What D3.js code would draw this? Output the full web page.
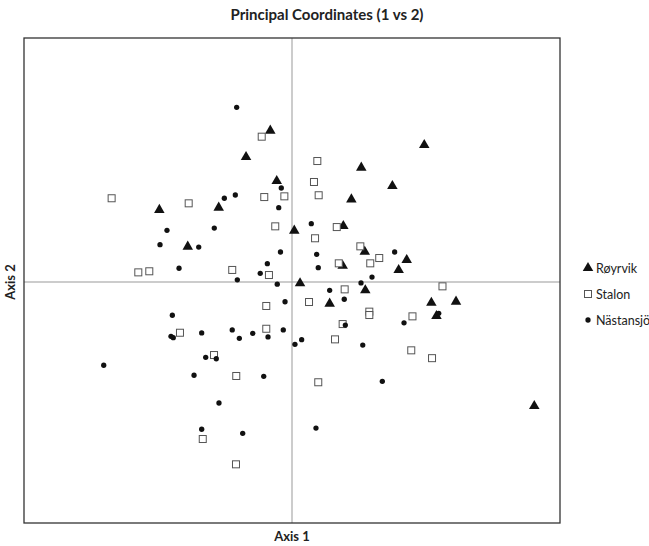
<!DOCTYPE html>
<html>
<head>
<meta charset="utf-8">
<script src="https://cdn.jsdelivr.net/npm/d3@7"></script>
<style>
  body { margin: 0; background: #fff; }
  text { font-family: Lato, "Open Sans", sans-serif; fill: #222; }
</style>
</head>
<body>
<script>
// PCoA scores, axis 1 / axis 2
var royrvikX = [-0.162, -0.343, -0.114, -0.990, -0.547, -0.778, 0.987, 0.517, 0.749, 0.443, 0.383, 0.017,
                0.543, 0.378, 0.856, 0.796, 0.060, 0.547, 0.281, 1.040, 1.224, 1.078, 1.808];
var royrvikY = [1.256, 1.037, 0.838, 0.598, 0.617, 0.293, 1.137, 0.949, 0.797, 0.686, 0.465, 0.426,
                0.251, 0.135, 0.183, 0.100, -0.011, -0.069, -0.180, -0.172, -0.163, -0.282, -1.029];

var stalonX = [-0.226, -1.346, -0.771, -0.207, -0.057, -0.125, -1.147, -1.065, -0.446, -0.172, 0.189, 0.164,
               0.199, 0.334, 0.172, 0.510, 0.651, 0.349, 0.584, 1.123, 0.393, 0.127, 0.577, 0.577, 0.899,
               0.378, 0.321, 0.890, 1.045, 0.196, -0.192, -0.836, -0.192, -0.582, -0.416, -0.666, -0.418];
var stalonY = [1.206, 0.695, 0.653, 0.705, 0.711, 0.462, 0.080, 0.089, 0.100, 0.058, 1.004, 0.830,
               0.720, 0.456, 0.363, 0.296, 0.199, 0.155, 0.155, -0.036, -0.061, -0.166, -0.246, -0.274, -0.285,
               -0.349, -0.476, -0.567, -0.632, -0.832, -0.199, -0.421, -0.388, -0.606, -0.780, -1.303, -1.513];

var nastansjoX = [-0.413, -0.080, -0.505, -0.423, -0.099, -0.933, -0.580, -0.985, -0.696, -0.086, -0.184, -0.843,
                  -0.237, -0.408, -0.110, 0.144, 0.766, 0.184, 0.196, 0.597, 0.515, 0.281, 0.390, -0.052,
                  1.095, 0.836, 0.398, -0.065, 0.072, 0.022, 0.528, 0.674, 0.179, -0.893, -0.903, -0.886,
                  -0.674, -0.446, -0.393, -0.293, -0.179, -1.405, -0.644, -0.565, -0.731, -0.211, -0.545,
                  -0.674, -0.368];
var nastansjoY = [1.450, 0.780, 0.695, 0.722, 0.617, 0.429, 0.448, 0.310, 0.290, 0.249, 0.152, 0.114,
                  0.072, 0.018, -0.018, 0.484, 0.249, 0.230, 0.119, 0.041, -0.008, -0.069, -0.143, -0.164,
                  -0.260, -0.339, -0.357, -0.398, -0.479, -0.517, -0.523, -0.824, -1.212, -0.276, -0.451, -0.462,
                  -0.423, -0.398, -0.467, -0.426, -0.456, -0.691, -0.625, -0.637, -0.774, -0.783, -1.004,
                  -1.222, -1.256];

var groups = ["Røyrvik", "Stalon", "Nästansjö"];

var width = 649, height = 546;
var margin = {left: 24, right: 89, top: 38, bottom: 23};

var svg = d3.select("body").append("svg")
    .attr("width", width)
    .attr("height", height);

var x = d3.scaleLinear().domain([-2, 2]).range([margin.left, width - margin.right]);
var y = d3.scaleLinear().domain([-2, 2.025]).range([height - margin.bottom, margin.top]);

// zero lines
svg.append("line")
    .attr("x1", x(0)).attr("x2", x(0))
    .attr("y1", y.range()[1]).attr("y2", y.range()[0])
    .style("stroke", "#999").style("stroke-width", 1);
svg.append("line")
    .attr("x1", x.range()[0]).attr("x2", x.range()[1])
    .attr("y1", y(0)).attr("y2", y(0))
    .style("stroke", "#999").style("stroke-width", 1);

// frame
svg.append("rect")
    .attr("x", x.range()[0]).attr("y", y.range()[1])
    .attr("width", x.range()[1] - x.range()[0])
    .attr("height", y.range()[0] - y.range()[1])
    .style("fill", "none").style("stroke", "#333").style("stroke-width", 1.3);

function pairs(xs, ys) {
    return xs.map(function(d, i) { return [d, ys[i]]; });
}

var tri = d3.symbol().type(d3.symbolTriangle).size(48);
var dot = d3.symbol().type(d3.symbolCircle).size(22);

svg.selectAll("path.tri")
    .data(pairs(royrvikX, royrvikY))
    .enter().append("path")
    .attr("class", "tri")
    .attr("d", tri)
    .attr("transform", function(d) { return "translate(" + x(d[0]) + "," + y(d[1]) + ")"; })
    .style("fill", "#111");

svg.selectAll("rect.sq")
    .data(pairs(stalonX, stalonY))
    .enter().append("rect")
    .attr("class", "sq")
    .attr("x", function(d) { return x(d[0]) - 3.5; })
    .attr("y", function(d) { return y(d[1]) - 3.5; })
    .attr("width", 7).attr("height", 7)
    .style("fill", "#fff").style("stroke", "#555").style("stroke-width", 1);

svg.selectAll("path.dot")
    .data(pairs(nastansjoX, nastansjoY))
    .enter().append("path")
    .attr("class", "dot")
    .attr("d", dot)
    .attr("transform", function(d) { return "translate(" + x(d[0]) + "," + y(d[1]) + ")"; })
    .style("fill", "#111");

// titles
svg.append("text")
    .attr("x", 327).attr("y", 20)
    .attr("text-anchor", "middle")
    .style("font-size", "15px").style("font-weight", "bold")
    .text("Principal Coordinates (1 vs 2)");

svg.append("text")
    .attr("x", x(0)).attr("y", 541)
    .attr("text-anchor", "middle")
    .style("font-size", "13px").style("font-weight", "bold")
    .text("Axis 1");

svg.append("text")
    .attr("transform", "translate(15," + y(0) + ") rotate(-90)")
    .attr("text-anchor", "middle")
    .style("font-size", "13px").style("font-weight", "bold")
    .text("Axis 2");

// legend
var legend = svg.selectAll("g.legend")
    .data(groups)
    .enter().append("g")
    .attr("class", "legend")
    .attr("transform", function(d, i) { return "translate(588," + (268 + i * 26) + ")"; });

legend.each(function(d, i) {
    var g = d3.select(this);
    if (i == 0) {
        g.append("path").attr("d", tri).style("fill", "#111");
    } else if (i == 1) {
        g.append("rect").attr("x", -3.5).attr("y", -3.5).attr("width", 7).attr("height", 7)
            .style("fill", "#fff").style("stroke", "#555");
    } else {
        g.append("path").attr("d", dot).style("fill", "#111");
    }
    g.append("text")
        .attr("x", 8).attr("y", 4.5)
        .style("font-size", "12.5px")
        .text(d);
});
</script>
</body>
</html>
